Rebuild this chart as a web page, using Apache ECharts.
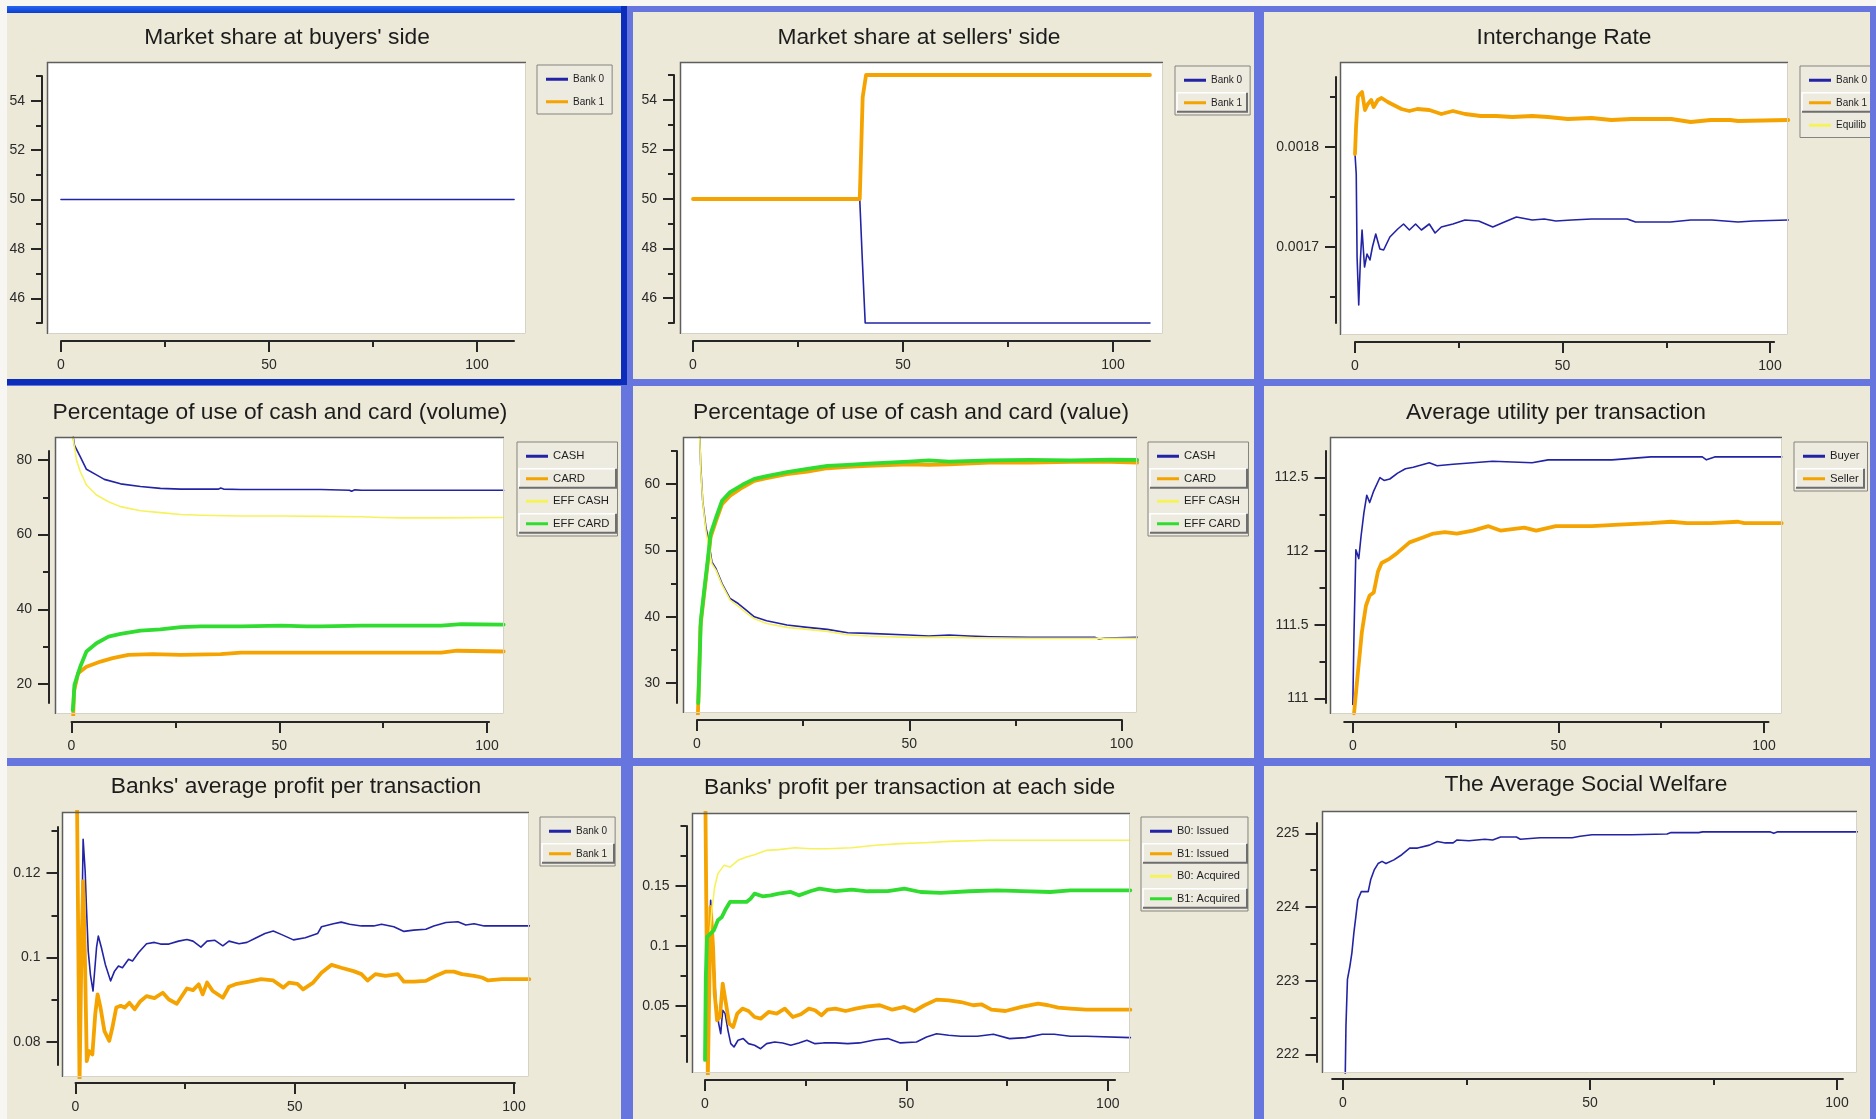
<!DOCTYPE html>
<html><head><meta charset="utf-8">
<script src="https://cdn.jsdelivr.net/npm/echarts@6/dist/echarts.min.js"></script>
<style>html,body{margin:0;padding:0;background:#fff}#c{width:1876px;height:1119px}</style>
</head><body><div id="c"></div><script>
// ---------------- DATA ----------------
const titles = ["Market share at buyers' side", "Market share at sellers' side", "Interchange Rate",
  "Percentage of use of cash and card (volume)", "Percentage of use of cash and card (value)", "Average utility per transaction",
  "Banks' average profit per transaction", "Banks' profit per transaction at each side", "The Average Social Welfare"];

const xTickLabels = [0, 50, 100];
const xMinorTicks = [25, 75];

const xRanges = [[0,108.9],[0,108.8],[0,101],[0,100.5],[0,100.1],[-2.1,101.1],[0,100.2],[0,101.8],[-2.2,101.2]];
const yRanges = [[45,55],[45,55],[0.001624,0.00187],[14.9,82.4],[27,65],[110.97,112.68],[0.0746,0.1309],[0.0033,0.2],[221.9,225.14]];
const yTickLabels = [[46,48,50,52,54],[46,48,50,52,54],[0.0017,0.0018],[20,40,60,80],[30,40,50,60],[111,111.5,112,112.5],[0.08,0.1,0.12],[0.05,0.1,0.15],[222,223,224,225]];
const yMinorTicks = [[45,47,49,51,53,55],[45,47,49,51,53,55],[0.00165,0.00175,0.00185],[30,50,70],[35,45,55,65],[111.25,111.75,112.25],[0.09,0.11,0.13],[0.025,0.075,0.125,0.175,0.2],[222.5,223.5,224.5]];

const legendNames = [['Bank 0','Bank 1'],['Bank 0','Bank 1'],['Bank 0','Bank 1','Equilib'],
  ['CASH','CARD','EFF CASH','EFF CARD'],['CASH','CARD','EFF CASH','EFF CARD'],['Buyer','Seller'],
  ['Bank 0','Bank 1'],['B0: Issued','B1: Issued','B0: Acquired','B1: Acquired'],[]];

// Panel 1
const buyersBank0 = [[0,50],[108.9,50]];
const buyersBank1 = [];
// Panel 2
const sellersBank0 = [[0,50],[39.7,50],[40.3,47.6],[41.0,45],[108.8,45]];
const sellersBank1 = [[0,50],[39.7,50],[40.4,54.1],[41.2,55],[108.8,55]];
// Panel 3
const rateBank0 = [[0,0.001793],[0.3,0.001773],[0.5,0.00169],[0.9,0.001642],[1.3,0.001687],[1.7,0.001717],[2.3,0.00168],[2.9,0.001693],[3.6,0.001687],[4.2,0.0017],[5,0.001713],[6,0.001698],[6.9,0.001697],[8.4,0.00171],[10.3,0.001718],[11.7,0.001723],[13.1,0.001717],[14.6,0.001723],[16,0.001717],[17.9,0.001723],[19.3,0.001714],[20.8,0.00172],[23.6,0.001723],[26.5,0.001727],[29.8,0.001726],[33.2,0.00172],[36,0.001725],[38.9,0.00173],[42.7,0.001727],[45.6,0.001728],[48.4,0.001726],[52.2,0.001727],[57,0.001728],[61.8,0.001728],[65.6,0.001728],[67.6,0.001725],[72,0.001725],[76,0.001725],[80.9,0.001727],[86,0.001727],[92.3,0.001725],[96,0.001726],[104.4,0.001727]];
const rateBank1 = [[0,0.001793],[0.25,0.00182],[0.7,0.00185],[1.2,0.001853],[1.7,0.001855],[2.4,0.001837],[3.1,0.001843],[3.9,0.001847],[4.5,0.00184],[5.5,0.001847],[6.4,0.001849],[7.9,0.001845],[9.3,0.001842],[11.2,0.001838],[13.1,0.001836],[15,0.001838],[17.9,0.001837],[20.8,0.001833],[23.6,0.001836],[26.5,0.001833],[30.3,0.001831],[34,0.001831],[37.9,0.00183],[42.7,0.001831],[46.5,0.00183],[51.3,0.001828],[57,0.001829],[61.8,0.001827],[66.6,0.001828],[71.4,0.001828],[76.2,0.001828],[80.9,0.001825],[85.7,0.001827],[90.4,0.001827],[92.3,0.001826],[104.4,0.001827]];
const rateEquilib = [];
// Panel 4
const volCash = [[0.3,87],[0.7,84],[2.1,80.9],[3.6,77.5],[6,76],[7.9,74.8],[11.8,73.6],[16.6,72.9],[21.4,72.4],[26.3,72.2],[35.4,72.2],[35.9,72.5],[36.6,72.2],[40.8,72.1],[50.6,72.1],[60,72.1],[66.9,71.9],[67.4,71.6],[68.2,72],[69.8,71.9],[79.4,71.9],[89,71.9],[104,71.9]];
const volCard = [[0.4,11],[0.6,18],[1.6,22.9],[3.6,24.6],[7,26],[9.9,26.9],[13.7,27.8],[19.5,28],[26.3,27.8],[35.9,28],[40.8,28.4],[50.6,28.4],[60,28.4],[79.4,28.4],[89,28.4],[92.8,28.9],[104,28.7]];
const volEffCash = [[0.2,87],[1.2,80],[2.1,76.9],[3.6,73.3],[6,70.6],[8.9,68.8],[11.8,67.5],[16.6,66.4],[21.4,65.9],[26.3,65.4],[31.1,65.2],[40.8,65],[50.6,65],[60,64.9],[69.8,64.8],[74.6,64.6],[79.4,64.5],[89,64.5],[104,64.6]];
const volEffCard = [[0.3,13],[0.5,15.7],[0.7,19.7],[2.1,24.6],[3.6,28.7],[6,30.9],[8.9,32.7],[11.8,33.4],[16.6,34.3],[21.4,34.6],[26.3,35.2],[31.1,35.4],[40.8,35.4],[50.6,35.6],[56.5,35.4],[60,35.4],[69.8,35.6],[79.4,35.6],[89,35.6],[93.8,36],[104,35.9]];
// Panel 5
const valCash = [[0.5,68],[0.67,67],[0.86,63],[1.34,57.5],[2.1,53.5],[2.58,52],[3.53,48.25],[4.48,47.25],[5.9,45],[7.8,42.75],[9.7,42],[11.6,41],[13.5,40],[16.4,39.4],[21.2,38.75],[26,38.4],[30.7,38.1],[35.5,37.6],[40.3,37.5],[49.8,37.25],[54.6,37.1],[59.4,37.25],[64.1,37.1],[68.9,37],[78.4,36.9],[88,36.9],[93.7,36.9],[94.7,36.65],[96.1,36.8],[103.7,36.9]];
const valCard = [[0.2,25],[0.5,31.5],[0.8,38.5],[1.6,43],[2.6,48.5],[3.2,52],[4.5,54.5],[5.9,57],[7.8,58.25],[10.7,59.5],[13.5,60.5],[16.4,60.9],[21.2,61.5],[26,61.9],[30.7,62.4],[35.5,62.6],[40.3,62.75],[49.8,63],[54.6,62.9],[59.4,63],[68.9,63.25],[78.4,63.25],[88,63.35],[97.5,63.35],[103.7,63.25]];
const valEffCash = [[0.6,68],[0.9,62],[1.4,57],[2.1,53],[3.5,48],[4.5,47],[5.9,44.8],[7.8,42.5],[9.7,41.6],[11.6,40.6],[13.5,39.7],[16.4,39],[21.2,38.4],[26,38.1],[30.7,37.8],[35.5,37.3],[40.3,37.1],[49.8,36.9],[59.4,36.9],[68.9,36.8],[78.4,36.75],[88,36.75],[103.7,36.75]];
const valEffCard = [[0.3,27],[0.6,33],[0.9,39.5],[1.7,44],[2.6,49],[3.2,52.5],[4.5,55],[5.9,57.5],[7.8,58.8],[10.7,59.9],[13.5,60.8],[16.4,61.2],[21.2,61.8],[26,62.3],[30.7,62.75],[35.5,62.9],[40.3,63.1],[49.8,63.4],[54.6,63.6],[59.4,63.4],[68.9,63.6],[78.4,63.65],[88,63.6],[97.5,63.7],[103.7,63.65]];
// Panel 6
const utilBuyer = [[0,110.96],[0.3,111.45],[0.5,111.7],[0.75,112.01],[1.45,111.95],[2,112.1],[2.7,112.26],[3.4,112.38],[4.1,112.33],[5.1,112.41],[6.6,112.5],[7.6,112.48],[9,112.49],[10.9,112.53],[12.8,112.56],[14.7,112.57],[18.6,112.6],[20.5,112.58],[24.4,112.59],[29.2,112.6],[34,112.61],[43.6,112.6],[47.5,112.62],[56,112.62],[63,112.62],[72.5,112.64],[82,112.64],[85,112.64],[86,112.62],[88,112.64],[104.3,112.64]];
const utilSeller = [[0.3,110.9],[1.25,111.18],[2.2,111.45],[3.2,111.63],[4.1,111.7],[5.1,111.72],[6.1,111.86],[7,111.92],[9,111.95],[10.9,111.99],[13.8,112.06],[16.7,112.09],[19.6,112.12],[22.4,112.13],[25.3,112.12],[29.2,112.14],[33,112.17],[35.9,112.14],[41.7,112.16],[44.6,112.14],[49.4,112.17],[58.1,112.17],[64.8,112.18],[72.5,112.19],[77.4,112.2],[81.2,112.19],[87,112.19],[93.7,112.2],[95.2,112.19],[104.3,112.19]];
// Panel 7
const profitBank0 = [[1.4,0.105],[1.74,0.128],[2.2,0.1205],[2.5,0.1118],[2.9,0.1016],[3.4,0.096],[4,0.0921],[4.8,0.1024],[5.2,0.1051],[5.9,0.1024],[6.8,0.0984],[8,0.0945],[8.9,0.0968],[9.8,0.098],[10.7,0.0976],[12.1,0.0996],[13,0.0992],[14.4,0.1012],[16.2,0.1033],[18,0.1036],[19.4,0.1032],[21.3,0.1032],[23.5,0.1039],[25.4,0.1043],[26.8,0.1039],[28.6,0.1025],[30,0.1039],[31.8,0.1041],[33.6,0.1028],[35,0.1039],[37.3,0.1033],[39.1,0.1036],[41,0.1046],[43.2,0.1057],[45.1,0.1063],[46.9,0.1055],[49.7,0.1042],[52.4,0.1047],[55.2,0.1057],[56.1,0.1073],[58.8,0.108],[60.6,0.1084],[62.5,0.1079],[65.2,0.1075],[68,0.1075],[69.8,0.1079],[72.6,0.1073],[74.9,0.1062],[77.1,0.1065],[79.9,0.1067],[81.7,0.1075],[84.5,0.1083],[87.2,0.1085],[89,0.1077],[90.9,0.108],[93.2,0.1075],[103.5,0.1075]];
const profitBank1 = [[0.2,0.14],[0.37,0.1343],[0.92,0.07],[1.37,0.1024],[1.74,0.1181],[2.2,0.0976],[2.57,0.0755],[3.1,0.0779],[3.85,0.0771],[4.5,0.0866],[5.04,0.0913],[5.7,0.0882],[6.6,0.0826],[7.7,0.0803],[8.4,0.0834],[9.3,0.0882],[10.3,0.0886],[11.2,0.0882],[12.3,0.0893],[13.5,0.0878],[14.8,0.0897],[16.2,0.0909],[18,0.0904],[19.9,0.0917],[21.3,0.0901],[23.1,0.0891],[25.4,0.0927],[26.8,0.0923],[28.1,0.0937],[29,0.0913],[30,0.0941],[31.3,0.0921],[33.6,0.0905],[35,0.0931],[36.8,0.0938],[39.6,0.0943],[42.3,0.0949],[45.1,0.0946],[47.4,0.0929],[48.7,0.0941],[50.6,0.0938],[51.9,0.0925],[54.2,0.0941],[56.1,0.0964],[58.4,0.0983],[60.6,0.0976],[63.4,0.0968],[65.2,0.0961],[66.6,0.0946],[68.4,0.0961],[70.7,0.0957],[73.5,0.0961],[74.9,0.0943],[77.1,0.0943],[79.9,0.0945],[82.2,0.0957],[84.5,0.0967],[86.3,0.0967],[88.1,0.0961],[90.9,0.0957],[92.7,0.0953],[94.1,0.0946],[97.3,0.0949],[103.5,0.0949]];
// Panel 8
const sideB0Issued = [[0.7,0.049],[1.4,0.138],[2,0.0992],[2.7,0.0547],[3.4,0.0353],[3.9,0.0269],[4.4,0.0464],[5,0.0436],[5.7,0.0297],[6.4,0.0186],[7.2,0.0158],[8.2,0.0214],[9.5,0.0228],[10.8,0.0186],[12.3,0.0172],[13.8,0.0144],[15.3,0.0186],[17.3,0.02],[19.3,0.0192],[21.3,0.0172],[23.3,0.0192],[25.3,0.0214],[27.3,0.0186],[29.4,0.0192],[32.4,0.0192],[35.4,0.0186],[38.4,0.0192],[42.4,0.0219],[45.4,0.0228],[48.5,0.0192],[52.5,0.02],[55,0.0242],[57.5,0.0269],[60.5,0.0256],[63.5,0.0247],[67.6,0.0247],[71.6,0.0264],[75.6,0.0228],[79.6,0.0236],[83.7,0.0264],[86.7,0.0264],[90.7,0.0247],[94.7,0.0247],[105.6,0.0236]];
const sideB1Issued = [[0.1,0.22],[0.7,-0.01],[1.4,0.1325],[2,0.0992],[2.4,0.0603],[3,0.0381],[3.7,0.0408],[4.4,0.0686],[5.2,0.052],[6,0.0353],[7,0.0325],[8,0.0436],[9.3,0.0478],[10.8,0.0458],[12.3,0.0408],[13.8,0.0394],[15.8,0.045],[17.8,0.0436],[19.8,0.0478],[21.8,0.0408],[23.8,0.0431],[25.8,0.0478],[27.3,0.0464],[28.9,0.0422],[30.4,0.0469],[32.4,0.0478],[34.9,0.0458],[37.4,0.0478],[40.4,0.0497],[43.4,0.0506],[46.5,0.0469],[49.5,0.0492],[52,0.0458],[54.5,0.0506],[57.5,0.0553],[60.5,0.0547],[63.5,0.0533],[66.6,0.0506],[68.6,0.0514],[71.1,0.0469],[74.6,0.0458],[78.6,0.0492],[82.7,0.0519],[85.2,0.0506],[87.7,0.0486],[90.7,0.0478],[94.7,0.0469],[105.6,0.0469]];
const sideB0Acquired = [[1.2,0.11],[1.7,0.1297],[2.4,0.1492],[3.2,0.1603],[4.7,0.1672],[6.2,0.1658],[8.2,0.1714],[10.3,0.1742],[12.3,0.1761],[15.3,0.1797],[18.3,0.1803],[22.3,0.1819],[26.3,0.1811],[30.4,0.1811],[36.4,0.1819],[42.4,0.1839],[48.5,0.1853],[54.5,0.1861],[60.5,0.1872],[70.6,0.1881],[80.6,0.1881],[90.7,0.1881],[105.6,0.1881]];
const sideB1Acquired = [[0,0.005],[0.2,0.074],[0.5,0.1075],[2.2,0.113],[3.2,0.1214],[4.2,0.1242],[5.2,0.1311],[6.2,0.1367],[8.2,0.1367],[10.3,0.1367],[11.3,0.1394],[12.3,0.1436],[14.3,0.1414],[16.3,0.1422],[18.3,0.1436],[21.3,0.145],[23.3,0.1422],[26.3,0.1458],[28.4,0.1478],[32.4,0.1458],[36.4,0.1469],[40.4,0.1456],[45.4,0.1458],[49.5,0.1478],[53.5,0.145],[58.5,0.1442],[65.6,0.1456],[72.6,0.1464],[78.6,0.1458],[85.7,0.145],[90.7,0.1464],[105.6,0.1464]];
// Panel 9
const welfare = [[0.45,221.7],[0.6,222.39],[0.9,223.02],[1.4,223.2],[1.8,223.38],[2.2,223.65],[2.6,223.87],[3,224.1],[3.7,224.21],[5.1,224.21],[5.6,224.37],[6.3,224.5],[7.1,224.59],[7.9,224.62],[8.7,224.59],[10.3,224.64],[11.9,224.71],[13.5,224.8],[15.1,224.8],[17.5,224.84],[19.1,224.89],[20.7,224.87],[22.3,224.87],[23.1,224.91],[25.5,224.9],[28.7,224.92],[30.3,224.91],[31.9,224.95],[35.1,224.95],[35.9,224.92],[39.9,224.94],[46.4,224.94],[48,224.96],[50.4,224.98],[58.4,224.98],[65.6,224.99],[66.4,225.01],[72,225.01],[72.8,225.02],[86.4,225.02],[87.2,225.0],[88,225.02],[104.1,225.02]];

const panelSeries = [
  [['Bank 0', buyersBank0], ['Bank 1', buyersBank1]],
  [['Bank 0', sellersBank0], ['Bank 1', sellersBank1]],
  [['Bank 0', rateBank0], ['Bank 1', rateBank1], ['Equilib', rateEquilib]],
  [['CASH', volCash], ['CARD', volCard], ['EFF CASH', volEffCash], ['EFF CARD', volEffCard]],
  [['CASH', valCash], ['CARD', valCard], ['EFF CASH', valEffCash], ['EFF CARD', valEffCard]],
  [['Buyer', utilBuyer], ['Seller', utilSeller]],
  [['Bank 0', profitBank0], ['Bank 1', profitBank1]],
  [['B0: Issued', sideB0Issued], ['B1: Issued', sideB1Issued], ['B0: Acquired', sideB0Acquired], ['B1: Acquired', sideB1Acquired]],
  [['Social Welfare', welfare]]
];

// ---------------- LAYOUT / STYLE ----------------
const LAYOUT = [
 {white:[47,62,526,334], x0:61, x100:477, xAxisY:341, yAxisX:42, yTop:76, yBot:323, titleX:287, titleY:27, legend:[537,65], lfs:10, btn:null},
 {white:[680,62,1163,334], x0:693, x100:1113, xAxisY:341, yAxisX:674, yTop:75, yBot:323, titleX:919, titleY:27, legend:[1175,66], lfs:10, btn:[1177,1247,[1]]},
 {white:[1340,62,1788,335], x0:1355, x100:1770, xAxisY:342, yAxisX:1336, yTop:77, yBot:323, titleX:1564, titleY:27, legend:[1800,66], lfs:10, btn:[1802,1882,[1]]},
 {white:[55,437,504,714], x0:71.5, x100:487, xAxisY:722, yAxisX:49, yTop:451, yBot:703, titleX:280, titleY:402, legend:[517,442], lfs:11.3, btn:[519,616,[1,3]]},
 {white:[683,437,1137,713], x0:697, x100:1121.5, xAxisY:720, yAxisX:677, yTop:451, yBot:703, titleX:911, titleY:402, legend:[1148,442], lfs:11.3, btn:[1150,1247,[1,3]]},
 {white:[1330,437,1782,714], x0:1352.8, x100:1764, xAxisY:722, yAxisX:1325.5, yTop:451, yBot:703, titleX:1556, titleY:402, legend:[1794,442], lfs:11.3, btn:[1796,1864,[1]]},
 {white:[62,812,529,1077], x0:75.5, x100:514, xAxisY:1083, yAxisX:57.5, yTop:827, yBot:1065, titleX:296, titleY:776, legend:[540,817], lfs:10, btn:[542,614,[1]]},
 {white:[692,813,1130,1073], x0:705, x100:1107.8, xAxisY:1080, yAxisX:686.5, yTop:826, yBot:1062, titleX:909.5, titleY:777, legend:[1141,817], lfs:11, btn:[1143,1247,[1,3]]},
 {white:[1322,811,1857,1073], x0:1343, x100:1837, xAxisY:1079, yAxisX:1316.4, yTop:823, yBot:1062, titleX:1586, titleY:774, legend:null, lfs:10, btn:null}
];
const FRAMES_LIGHT = [[627,6,1260,385],[1258,6,1876,385],[-6,380,627,764],[627,380,1260,764],[1258,380,1876,764],[-6,760,627,1130],[627,760,1260,1130],[1258,760,1876,1130]];
const FRAME_ACTIVE = [-6,6,627,385];

const FONT = '"Liberation Sans", Arial, Helvetica, sans-serif';
const AXIS_C = '#262626';
const BLUE = '#2323A6', ORANGE = '#F5A300', GREEN = '#30DC30', YELLOW = '#F6F25C';
const STYLE = {
  'Bank 0': [BLUE, 1.6], 'Bank 1': [ORANGE, 3.8], 'Equilib': [YELLOW, 3],
  'CASH': [BLUE, 1.6], 'CARD': [ORANGE, 3.8], 'EFF CASH': [YELLOW, 1.6], 'EFF CARD': [GREEN, 3.8],
  'Buyer': [BLUE, 1.6], 'Seller': [ORANGE, 3.8],
  'B0: Issued': [BLUE, 1.6], 'B1: Issued': [ORANGE, 3.8], 'B0: Acquired': [YELLOW, 1.6], 'B1: Acquired': [GREEN, 3.8],
  'Social Welfare': [BLUE, 1.6]
};
const LEG_PAD_TOP = 8, LEG_LINE = 12.5, LEG_GAP = 10;

const grid = [], xAxis = [], yAxis = [], series = [], title = [], legend = [], elements = [];

elements.push({type:'rect', shape:{x:0,y:0,width:1876,height:6}, style:{fill:'#F7F6F2'}, z:1});
FRAMES_LIGHT.forEach(f => elements.push({type:'rect', shape:{x:f[0]+3, y:f[1]+3, width:f[2]-f[0]-6, height:f[3]-f[1]-6}, style:{fill:'none', stroke:'#6676DE', lineWidth:6}, z:50}));
elements.push({type:'rect', shape:{x:FRAME_ACTIVE[0]+3, y:FRAME_ACTIVE[1]+3, width:FRAME_ACTIVE[2]-FRAME_ACTIVE[0]-6, height:FRAME_ACTIVE[3]-FRAME_ACTIVE[1]-6}, style:{fill:'none', stroke:'#0B2DBA', lineWidth:6}, z:51});
elements.push({type:'rect', shape:{x:7,y:6,width:614,height:7}, style:{fill:new echarts.graphic.LinearGradient(0,0,0,1,[{offset:0,color:'#2A64F0'},{offset:1,color:'#0A3ED0'}])}, z:52});
elements.push({type:'rect', shape:{x:0,y:0,width:7,height:1119}, style:{fill:'#F7F6F2'}, z:53});

LAYOUT.forEach((L, i) => {
  const [xs, xe] = xRanges[i], [ys, ye] = yRanges[i];
  const sx = (L.x100 - L.x0) / 100;
  const bl = L.x0 + xs * sx, br = L.x0 + xe * sx;
  const sy = (L.yBot - L.yTop) / (ye - ys);
  const [wx1, wy1, wx2, wy2] = L.white;
  const gA = grid.length;
  grid.push({left: wx1, top: wy1, width: wx2 - wx1, height: wy2 - wy1, show: true, backgroundColor: '#FFFFFF', borderWidth: 0, containLabel: false, outerBoundsMode: 'none'});
  grid.push({left: bl, top: L.yTop, width: br - bl, height: L.yBot - L.yTop, show: false, containLabel: false, outerBoundsMode: 'none'});
  const ax = xAxis.length, ay = yAxis.length;
  const tickStyle = {color: AXIS_C, width: 2};
  const labelStyle = {fontSize: 14, color: '#2a2a2a', fontFamily: FONT};
  xAxis.push({type:'value', gridIndex: gA, min: xs + (wx1 - bl) / sx, max: xs + (wx2 - bl) / sx, show: false});
  xAxis.push({type:'value', gridIndex: gA + 1, min: xs, max: xe, position: 'bottom', offset: L.xAxisY - L.yBot,
    axisLine: {show: true, onZero: false, lineStyle: {color: AXIS_C, width: 2}},
    axisTick: {show: true, customValues: xTickLabels, length: 11, lineStyle: tickStyle},
    axisLabel: Object.assign({show: true, customValues: xTickLabels, margin: 17}, labelStyle),
    splitLine: {show: false}});
  xAxis.push({type:'value', gridIndex: gA + 1, min: xs, max: xe, position: 'bottom', offset: L.xAxisY - L.yBot,
    axisLine: {show: false, onZero: false}, axisTick: {show: true, customValues: xMinorTicks, length: 6, lineStyle: tickStyle},
    axisLabel: {show: false}, splitLine: {show: false}});
  yAxis.push({type:'value', gridIndex: gA, min: ys - (wy2 - L.yBot) / sy, max: ye + (L.yTop - wy1) / sy, show: false});
  yAxis.push({type:'value', gridIndex: gA + 1, min: ys, max: ye, position: 'left', offset: bl - L.yAxisX,
    axisLine: {show: true, onZero: false, lineStyle: {color: AXIS_C, width: 2}},
    axisTick: {show: true, customValues: yTickLabels[i], length: 11, lineStyle: tickStyle},
    axisLabel: Object.assign({show: true, customValues: yTickLabels[i], margin: 17}, labelStyle),
    splitLine: {show: false}});
  yAxis.push({type:'value', gridIndex: gA + 1, min: ys, max: ye, position: 'left', offset: bl - L.yAxisX,
    axisLine: {show: false, onZero: false}, axisTick: {show: true, customValues: yMinorTicks[i], length: 6, lineStyle: tickStyle},
    axisLabel: {show: false}, splitLine: {show: false}});

  panelSeries[i].forEach(([name, data]) => {
    const [c, w] = STYLE[name];
    series.push({type: 'line', name, data, xAxisIndex: ax, yAxisIndex: ay, color: c,
      showSymbol: false, symbol: 'none', clip: true, silent: true,
      lineStyle: {color: c, width: w, join: 'round', cap: 'round'}, itemStyle: {color: c}});
  });

  title.push({text: titles[i], left: L.titleX, top: L.titleY, textAlign: 'center', padding: 0,
    textStyle: {fontFamily: FONT, fontSize: 22.8, fontWeight: 'normal', color: '#1c1c1c', lineHeight: 22}});

  if (L.legend) {
    legend.push({data: legendNames[i], orient: 'vertical', left: L.legend[0], top: L.legend[1],
      icon: 'rect', itemWidth: 22, itemHeight: 3, itemGap: LEG_GAP, padding: [LEG_PAD_TOP, 8, 6, 9],
      backgroundColor: '#EDEAE0', borderColor: '#85837D', borderWidth: 1, borderRadius: 0, selectedMode: false,
      textStyle: {fontFamily: FONT, fontSize: L.lfs, color: '#1e1e1e', lineHeight: LEG_LINE}});
    if (L.btn) {
      const [bx1, bx2, items] = L.btn;
      items.forEach(k => {
        const cy = L.legend[1] + LEG_PAD_TOP + LEG_LINE / 2 + k * (LEG_LINE + LEG_GAP);
        const t = cy - 10, b = cy + 9;
        elements.push({type:'polyline', shape:{points:[[bx1, b],[bx1, t],[bx2, t]]}, style:{fill:'none', stroke:'#FFFFFF', lineWidth:1.5}, z:20});
        elements.push({type:'polyline', shape:{points:[[bx1, b],[bx2, b],[bx2, t]]}, style:{fill:'none', stroke:'#6E6E6E', lineWidth:2}, z:20});
      });
    }
  }

  elements.push({type:'polyline', shape:{points:[[wx1+0.5, wy2],[wx1+0.5, wy1+0.5],[wx2, wy1+0.5]]}, style:{fill:'none', stroke:'#5E5E5E', lineWidth:1.5}, z:10});
  elements.push({type:'polyline', shape:{points:[[wx1+1, wy2-0.5],[wx2-0.5, wy2-0.5],[wx2-0.5, wy1+1]]}, style:{fill:'none', stroke:'#D6D3C6', lineWidth:1}, z:10});
});

const chart = echarts.init(document.getElementById('c'), null, {renderer: 'canvas', width: 1876, height: 1119});
chart.setOption({
  animation: false,
  backgroundColor: '#ECE9D8',
  textStyle: {fontFamily: FONT},
  title, legend, grid, xAxis, yAxis, series,
  graphic: {elements}
});
</script></body></html>
